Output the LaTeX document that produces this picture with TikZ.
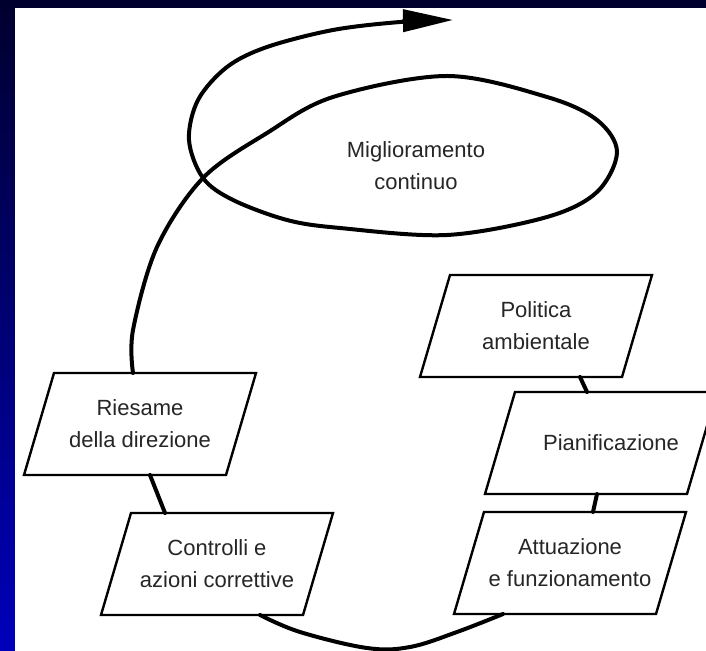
\documentclass[tikz,border=0pt]{standalone}
\usepackage{fontspec}
\setmainfont{Liberation Sans}
\usetikzlibrary{arrows.meta}
\definecolor{bgtop}{RGB}{0,0,46}
\definecolor{bgbottom}{RGB}{0,0,186}
\tikzset{
  stage/.style={minimum width=101pt, minimum height=51pt,
    inner sep=0pt, outer sep=0pt, align=center,
    font=\fontsize{11}{16}\selectfont, text=black!85,
    append after command={\pgfextra{%
      \draw [line width=1.2pt, line join=miter]
        ([xshift=7.5pt]\tikzlastnode.north west) -- ([xshift=7.5pt]\tikzlastnode.north east)
        -- ([xshift=-7.5pt]\tikzlastnode.south east) -- ([xshift=-7.5pt]\tikzlastnode.south west)
        -- cycle;}}},
  flow/.style={line width=2pt, line cap=round, line join=round},
}

\begin{document}
\begin{tikzpicture}[%
      x=0.5pt, y=-0.5pt,
      ]
      \clip (0,0) rectangle (706,651);
      \shade [top color=bgtop, bottom color=bgbottom] (0,0) rectangle (706,651);
      \fill [white] (15,8) rectangle (706,651);

      % the five steps
      \node [stage] (pol) at (536,326) {Politica\\ambientale};
      \node [stage] (pian) at (601,443) {\hspace*{10pt}Pianificazione};
      \node [stage] (attu) at (570,563) {Attuazione\\e funzionamento};
      \node [stage] (ctrl) at (217,564) {Controlli e\\azioni correttive};
      \node [stage] (ries) at (140,424) {Riesame\\della direzione};

      \node [font=\fontsize{11}{16}\selectfont, text=black!85, align=center] (migl) at (416,166) {Miglioramento\\continuo};
      \coordinate (tip) at (453,20);

      % links
      \draw [flow] ([xshift=22pt]pol.south) -- ([xshift=-7pt]pian.north);
      \draw [flow] ([xshift=-2pt]pian.south) -- ([xshift=11.5pt]attu.north);
      \draw [flow] ([xshift=5pt]ries.south) -- ([xshift=-26pt]ctrl.north);
      \draw [flow] plot [smooth, tension=0.6] coordinates {([xshift=21.5pt]ctrl.south) (300,632) (367,648) (410,647) (457,632) ([xshift=-33.5pt]attu.south)};

      % spiral round the ellipse
      \draw [flow, -{Triangle[length=25pt,width=11pt]}] plot [smooth, tension=0.55] coordinates {([xshift=-3.5pt]ries.north) (133,330) (157,247) (203,178) (267,133) (333,97) (447,76) (547,97) (597,120) (617,152) (597,192) (547,217) (447,235) (340,228) (287,220) (233,200) (203,178) (189,140) (198,100) (227,67) (267,47) (333,30) (400,22) (tip)};
\end{tikzpicture}
\end{document}
